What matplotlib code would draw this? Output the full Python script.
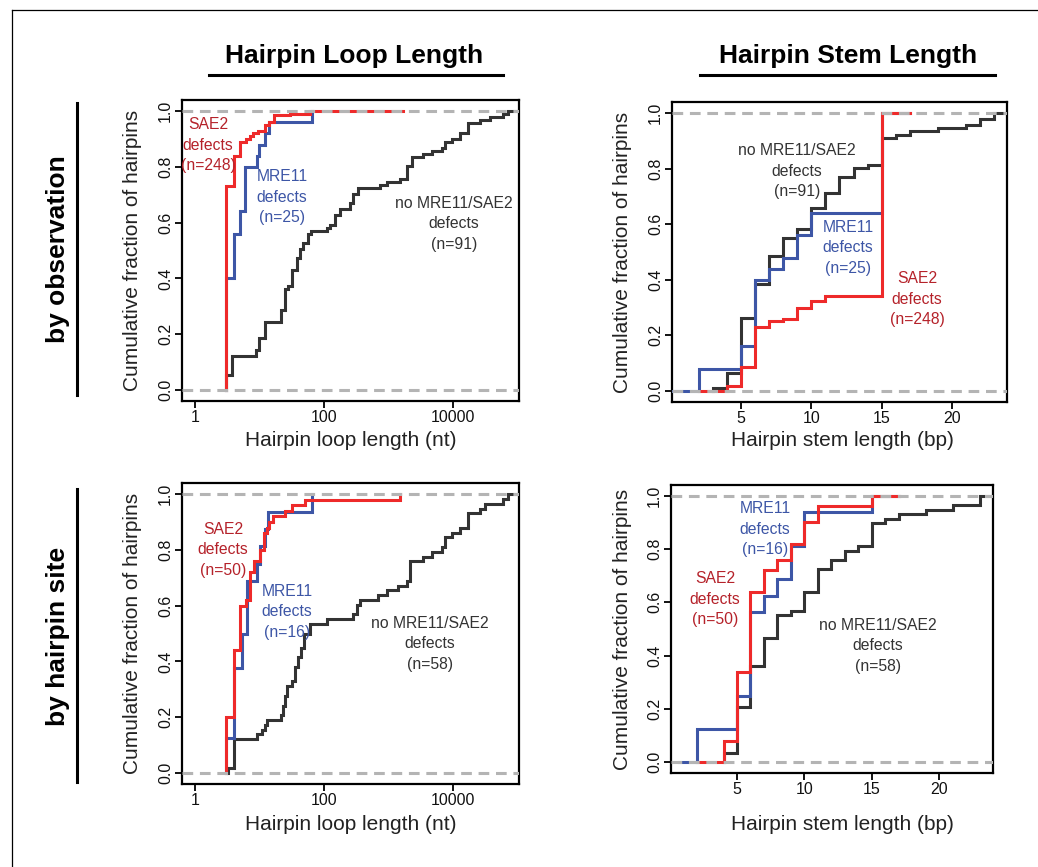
import matplotlib
matplotlib.use("Agg")
import matplotlib.pyplot as plt
from matplotlib.lines import Line2D

W, H = 1038, 867
plt.rcParams['font.family'] = ['Liberation Sans', 'DejaVu Sans']

RED = '#ee2a2a'
BLUE = '#3d56a6'
DARK = '#333333'
RED_TXT = '#b5222a'
GRAY = '#b4b4b4'

# ---- Hairpin loop length, by observation (top left)
loop_obs_sae2_x = [3, 4, 5, 6.2, 7.1, 8, 9.5, 12, 14, 16.8, 30, 60]
loop_obs_sae2_y = [0.73, 0.84, 0.89, 0.90, 0.91, 0.92, 0.93, 0.95, 0.96, 0.985, 0.99, 1.0]
loop_obs_mre11_x = [3, 4, 5, 6, 9, 10, 12, 14, 66]
loop_obs_mre11_y = [0.40, 0.56, 0.64, 0.80, 0.84, 0.88, 0.92, 0.96, 1.0]
loop_obs_none_x = [3, 3.8, 8.8, 10, 12, 21.3, 24.9, 28, 31.5, 37.7, 42.5, 47.8, 57, 64,
                   110, 124, 148, 177, 253, 285, 340, 738, 936, 1508, 1910, 2287, 3466,
                   4664, 6650, 7510, 9530, 12850, 17280, 26200, 37500, 60300, 72100]
loop_obs_none_y = [0.055, 0.121, 0.143, 0.187, 0.242, 0.286, 0.363, 0.374, 0.429, 0.473,
                   0.505, 0.527, 0.56, 0.571, 0.582, 0.593, 0.626, 0.648, 0.67, 0.703,
                   0.725, 0.736, 0.747, 0.758, 0.802, 0.835, 0.846, 0.857, 0.868, 0.89,
                   0.901, 0.923, 0.956, 0.967, 0.978, 0.989, 1.0]

# ---- Hairpin stem length, by observation (top right)
stem_obs_sae2_x = [4, 5, 6, 7, 8, 9, 10, 11, 15]
stem_obs_sae2_y = [0.016, 0.085, 0.23, 0.25, 0.26, 0.30, 0.325, 0.34, 1.0]
stem_obs_mre11_x = [2, 5, 6, 7, 8, 9, 10, 15]
stem_obs_mre11_y = [0.08, 0.16, 0.40, 0.44, 0.48, 0.56, 0.64, 1.0]
stem_obs_none_x = [3, 4, 5, 6, 7, 8, 9, 10, 11, 12, 13, 14, 15, 16, 17, 19, 21, 22, 23]
stem_obs_none_y = [0.011, 0.066, 0.264, 0.385, 0.484, 0.549, 0.582, 0.659, 0.714, 0.769,
                   0.802, 0.813, 0.912, 0.923, 0.934, 0.945, 0.956, 0.978, 1.0]

# ---- Hairpin loop length, by hairpin site (bottom left)
loop_site_sae2_x = [3, 4, 5, 6.1, 7.1, 8.2, 10.2, 11.7, 12.9, 14.2, 16, 24.8, 31.5, 50.7, 1508]
loop_site_sae2_y = [0.20, 0.44, 0.60, 0.62, 0.72, 0.76, 0.80, 0.86, 0.88, 0.90, 0.92, 0.94,
                    0.96, 0.98, 1.0]
loop_site_mre11_x = [3, 4, 5.3, 6.3, 9, 10.2, 12.2, 13.7, 66]
loop_site_mre11_y = [0.125, 0.375, 0.5, 0.6875, 0.75, 0.8125, 0.875, 0.9375, 1.0]
loop_site_none_x = [3.2, 4, 9.25, 10.8, 12.2, 13.2, 21.3, 23.4, 24.8, 27, 31.5, 35.5, 40,
                    43.5, 49, 60.7, 110, 285, 321, 361, 695, 936, 1420, 1910, 2155, 3466,
                    4664, 6650, 7510, 9530, 12850, 17280, 26200, 31300, 60300, 72100]
loop_site_none_y = [0.017, 0.121, 0.138, 0.155, 0.172, 0.19, 0.207, 0.241, 0.276, 0.31,
                    0.328, 0.379, 0.414, 0.448, 0.5, 0.534, 0.552, 0.569, 0.603, 0.621,
                    0.638, 0.655, 0.672, 0.69, 0.759, 0.776, 0.793, 0.81, 0.845, 0.862,
                    0.879, 0.931, 0.948, 0.966, 0.983, 1.0]

# ---- Hairpin stem length, by hairpin site (bottom right)
stem_site_sae2_x = [4, 5, 6, 7, 8, 9, 10, 11, 15]
stem_site_sae2_y = [0.08, 0.34, 0.64, 0.72, 0.76, 0.82, 0.90, 0.96, 1.0]
stem_site_mre11_x = [2, 5, 6, 7, 8, 9, 10, 15]
stem_site_mre11_y = [0.125, 0.25, 0.5625, 0.625, 0.6875, 0.8125, 0.9375, 1.0]
stem_site_none_x = [4, 5, 6, 7, 8, 9, 10, 11, 12, 13, 14, 15, 16, 17, 19, 21, 23]
stem_site_none_y = [0.034, 0.207, 0.362, 0.466, 0.552, 0.569, 0.638, 0.724, 0.759, 0.793,
                    0.81, 0.897, 0.914, 0.931, 0.948, 0.966, 1.0]

col_titles = ['Hairpin Loop Length', 'Hairpin Stem Length']
row_titles = ['by observation', 'by hairpin site']


def rect(x0, y0, x1, y1):
    return [x0 / W, 1 - y1 / H, (x1 - x0) / W, (y1 - y0) / H]


def fx(x):
    return x / W


def fy(y):
    return 1 - y / H


def ecdf_line(ax, xs, ys, color, start=None, end=None):
    # step curve starting at 0, as plot.ecdf draws it
    px = [xs[0] if start is None else start] + list(xs)
    py = [0] + list(ys)
    if end is not None:
        px.append(end)
        py.append(ys[-1])
    ax.step(px, py, where='post', color=color, lw=2.2, zorder=3, solid_joinstyle='miter')


def style_axes(ax, logx, xlabel, xlim, box):
    ax.set_ylim(-0.04, 1.04)
    ax.set_xlim(*xlim)
    if logx:
        ax.set_xscale('log')
        ax.set_xticks([1, 100, 10000])
        ax.set_xticklabels(['1', '100', '10000'])
        ax.minorticks_off()
    else:
        ax.set_xticks([5, 10, 15, 20])
        ax.set_xticklabels(['5', '10', '15', '20'])
    ax.set_yticks([0, 0.2, 0.4, 0.6, 0.8, 1.0])
    ax.set_yticklabels(['0.0', '0.2', '0.4', '0.6', '0.8', '1.0'], rotation=90, va='center')
    for s in ax.spines.values():
        s.set_linewidth(1.6)
    ax.tick_params(direction='out', length=5, width=1.3, labelsize=11.5, pad=1.5,
                   colors='black', labelcolor='#111111')
    ax.axhline(0, color=GRAY, lw=2.2, ls=(0, (3.5, 2.2)), zorder=5)
    ax.axhline(1, color=GRAY, lw=2.2, ls=(0, (3.5, 2.2)), zorder=5)
    ax.set_ylabel('Cumulative fraction of hairpins', fontsize=15, color='#222222')
    ax.set_xlabel(xlabel, fontsize=15, color='#222222')
    x0, y0, x1, y1 = box
    ax.yaxis.set_label_coords((133 - x0) / (x1 - x0), 0.5)
    ax.yaxis.label.set_va('center')


fig = plt.figure(figsize=(W / 100, H / 100), dpi=100)

boxes = {
    'tl': (182, 100, 519, 401),
    'tr': (672, 102, 1007, 402),
    'bl': (182, 483, 519, 784),
    'br': (671, 485, 993, 773),
}

ax_tl = fig.add_axes(rect(*boxes['tl']))
ax_tr = fig.add_axes(rect(*boxes['tr']))
ax_bl = fig.add_axes(rect(*boxes['bl']))
ax_br = fig.add_axes(rect(*boxes['br']))

loop_lim = (0.629, 105500)
# top left
ecdf_line(ax_tl, loop_obs_none_x, loop_obs_none_y, DARK, end=loop_lim[1])
ecdf_line(ax_tl, loop_obs_mre11_x, loop_obs_mre11_y, BLUE)
ecdf_line(ax_tl, loop_obs_sae2_x, loop_obs_sae2_y, RED, end=1700)
style_axes(ax_tl, True, 'Hairpin loop length (nt)', loop_lim, boxes['tl'])

# top right
ecdf_line(ax_tr, stem_obs_none_x, stem_obs_none_y, DARK, end=23.9)
ecdf_line(ax_tr, stem_obs_mre11_x, stem_obs_mre11_y, BLUE, start=0.11, end=17)
ecdf_line(ax_tr, stem_obs_sae2_x, stem_obs_sae2_y, RED, start=2, end=17)
style_axes(ax_tr, False, 'Hairpin stem length (bp)', (0.11, 23.9), boxes['tr'])

# bottom left
ecdf_line(ax_bl, loop_site_none_x, loop_site_none_y, DARK, end=loop_lim[1])
ecdf_line(ax_bl, loop_site_mre11_x, loop_site_mre11_y, BLUE)
ecdf_line(ax_bl, loop_site_sae2_x, loop_site_sae2_y, RED)
style_axes(ax_bl, True, 'Hairpin loop length (nt)', loop_lim, boxes['bl'])

# bottom right
ecdf_line(ax_br, stem_site_none_x, stem_site_none_y, DARK, end=24.0)
ecdf_line(ax_br, stem_site_mre11_x, stem_site_mre11_y, BLUE, start=0.7, end=17)
ecdf_line(ax_br, stem_site_sae2_x, stem_site_sae2_y, RED, start=2, end=17)
style_axes(ax_br, False, 'Hairpin stem length (bp)', (0.1, 24.0), boxes['br'])

# x label placement (pixel centres)
for key, ax, ycen, xcen in [('tl', ax_tl, 440, None), ('tr', ax_tr, 440, 842),
                            ('bl', ax_bl, 825, None), ('br', ax_br, 825, 842)]:
    x0, y0, x1, y1 = boxes[key]
    xc = 0.5 if xcen is None else (xcen - x0) / (x1 - x0)
    ax.xaxis.set_label_coords(xc, (y1 - ycen) / (y1 - y0))
    ax.xaxis.label.set_va('center')
    if key in ('tr', 'br'):
        ax.yaxis.set_label_coords((623 - x0) / (x1 - x0), 0.5)

# curve annotations
notes = [
    (208, 145, 'SAE2\ndefects\n(n=248)', RED_TXT),
    (282, 197, 'MRE11\ndefects\n(n=25)', BLUE),
    (454, 224, 'no MRE11/SAE2\ndefects\n(n=91)', DARK),
    (797, 171, 'no MRE11/SAE2\ndefects\n(n=91)', DARK),
    (848, 248, 'MRE11\ndefects\n(n=25)', BLUE),
    (917, 299, 'SAE2\ndefects\n(n=248)', RED_TXT),
    (223, 550, 'SAE2\ndefects\n(n=50)', RED_TXT),
    (287, 612, 'MRE11\ndefects\n(n=16)', BLUE),
    (430, 644, 'no MRE11/SAE2\ndefects\n(n=58)', DARK),
    (765, 529, 'MRE11\ndefects\n(n=16)', BLUE),
    (715, 599, 'SAE2\ndefects\n(n=50)', RED_TXT),
    (878, 646, 'no MRE11/SAE2\ndefects\n(n=58)', DARK),
]
for x, y, s, c in notes:
    fig.text(fx(x), fy(y), s, ha='center', va='center', color=c, fontsize=11.3,
             linespacing=1.42, zorder=6)

# column headers with underline
for (xc, x0, x1), t in zip([(354, 209, 503), (848, 700, 995)], col_titles):
    fig.text(fx(xc), fy(56), t, ha='center', va='center', fontsize=19, fontweight='bold')
    fig.add_artist(Line2D([fx(x0), fx(x1)], [fy(75), fy(75)], color='black', lw=2.2))

# row headers with side line
for (yc, y0, y1), t in zip([(249, 103, 395), (636, 489, 782)], row_titles):
    fig.text(fx(58), fy(yc), t, ha='center', va='center', rotation=90, fontsize=19,
             fontweight='bold')
    fig.add_artist(Line2D([fx(77), fx(77)], [fy(y0), fy(y1)], color='black', lw=2.2))

# outer frame (top and left edges)
fig.add_artist(Line2D([fx(11.7), 1], [fy(9.5), fy(9.5)], color='black', lw=0.9))
fig.add_artist(Line2D([fx(11.7), fx(11.7)], [fy(9.5), 0], color='black', lw=0.9))

fig.savefig('out.png', dpi=100)
